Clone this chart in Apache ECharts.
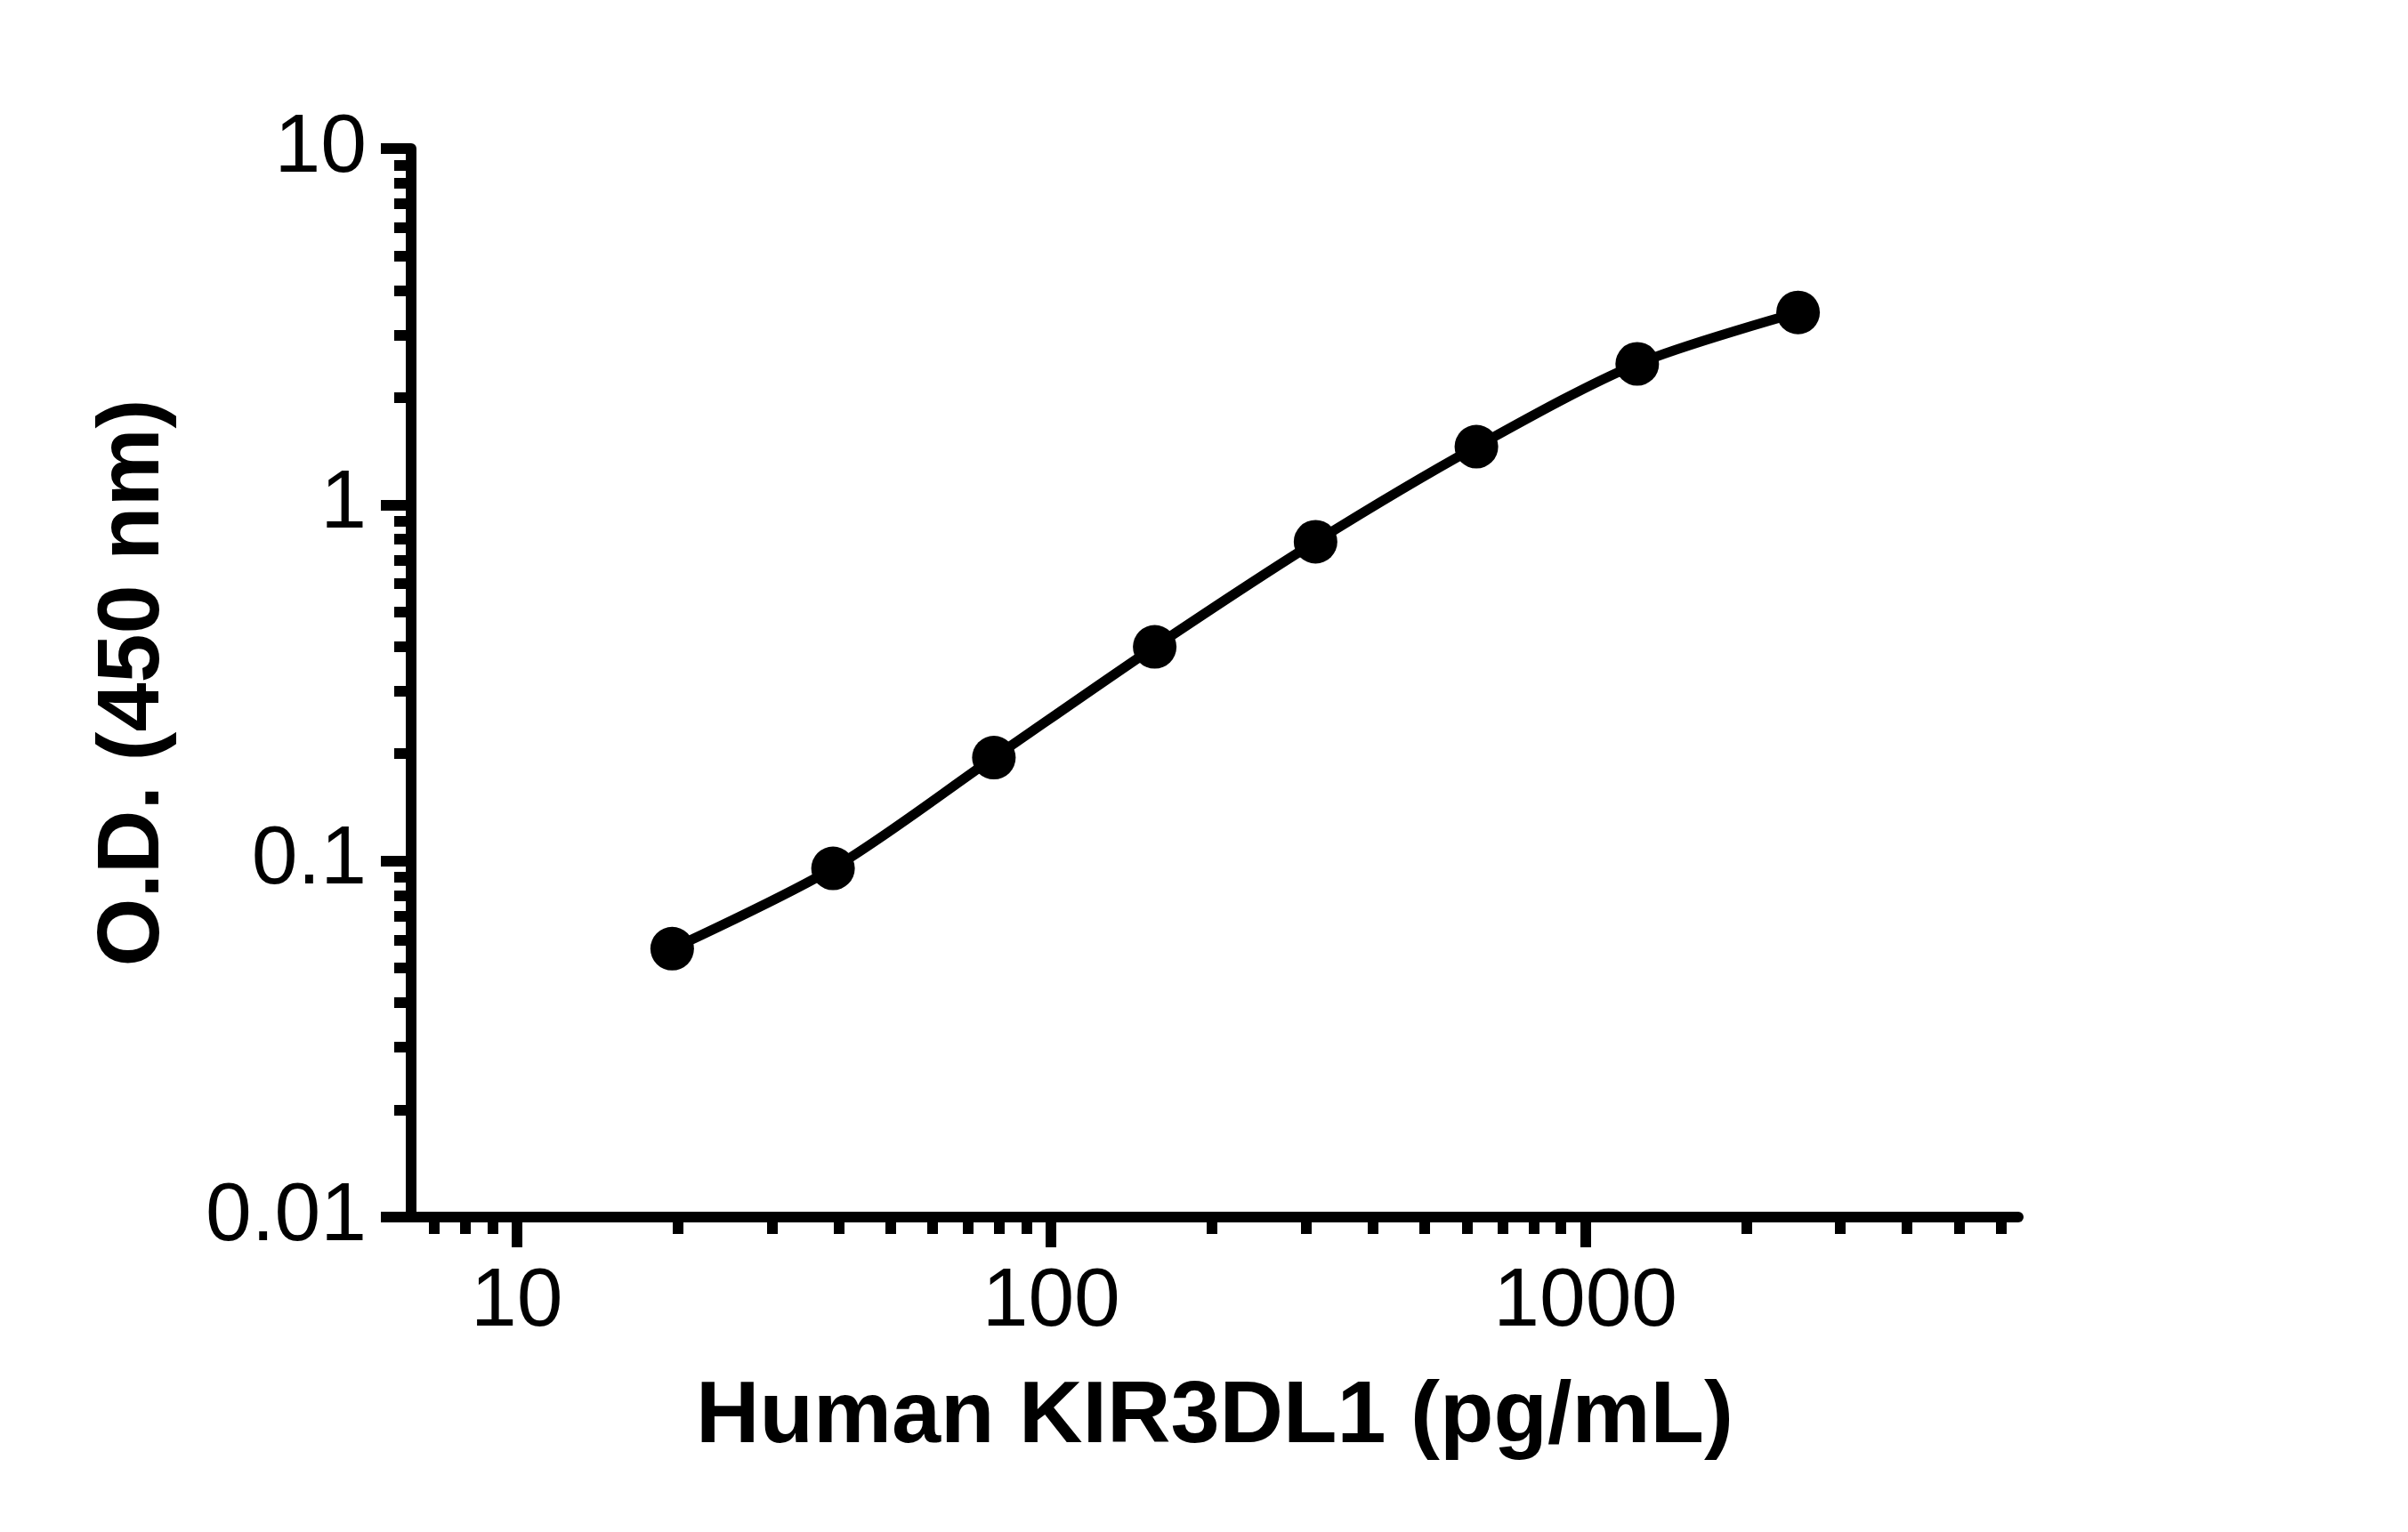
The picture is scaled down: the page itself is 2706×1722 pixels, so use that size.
<!DOCTYPE html>
<html>
<head>
<meta charset="utf-8">
<title>Human KIR3DL1 standard curve</title>
<script src="https://cdn.jsdelivr.net/npm/echarts@6/dist/echarts.min.js"></script>
<style>
  html, body { margin: 0; padding: 0; background: #fff; }
  #chart { width: 2706px; height: 1722px; }
</style>
</head>
<body>
<div id="chart"></div>
<script>
// standard curve points
var concentrations = [19.53, 39.06, 78.13, 156.25, 312.5, 625, 1250, 2500];
var odValues = [0.0567, 0.0953, 0.195, 0.399, 0.787, 1.456, 2.486, 3.467];

// axis ticks (log scale)
var xMajorTicks = [10, 100, 1000];
var xMinorTicks = [7, 8, 9, 20, 30, 40, 50, 60, 70, 80, 90,
    200, 300, 400, 500, 600, 700, 800, 900, 2000, 3000, 4000, 5000, 6000];
var yMajorTicks = [0.01, 0.1, 1, 10];
var yMinorTicks = [0.02, 0.03, 0.04, 0.05, 0.06, 0.07, 0.08, 0.09,
    0.2, 0.3, 0.4, 0.5, 0.6, 0.7, 0.8, 0.9, 2, 3, 4, 5, 6, 7, 8, 9];

var xTitle = 'Human KIR3DL1 (pg/mL)';
var yTitle = 'O.D. (450 nm)';

var font = 'Liberation Sans, Arial, Helvetica, sans-serif';
var xMin = 6.34, xMax = 6457;

var chart = echarts.init(document.getElementById('chart'));

function fmt(v) {
    return String(+(+v).toPrecision(3));
}

var points = concentrations.map(function (c, i) { return [c, odValues[i]]; });

var option = {
    animation: false,
    backgroundColor: '#fff',
    grid: {
        left: 462, right: 438, top: 167, bottom: 354,
        outerBoundsMode: 'none'
    },
    xAxis: [{
        type: 'log', logBase: 10, min: xMin, max: xMax,
        position: 'bottom',
        axisLine: { onZero: false, lineStyle: { color: '#000', width: 12 } },
        axisTick: { customValues: xMajorTicks, length: 34, lineStyle: { color: '#000', width: 12 } },
        axisLabel: {
            customValues: xMajorTicks, formatter: fmt, margin: 50,
            color: '#000', fontSize: 93, fontFamily: font
        },
        splitLine: { show: false },
        name: xTitle, nameLocation: 'middle', nameGap: 176,
        nameTextStyle: { color: '#000', fontSize: 99, fontWeight: 'bold', fontFamily: font }
    }, {
        type: 'log', logBase: 10, min: xMin, max: xMax,
        position: 'bottom',
        axisLine: { show: false, onZero: false },
        axisTick: { customValues: xMinorTicks, length: 19, lineStyle: { color: '#000', width: 12 } },
        axisLabel: { show: false },
        splitLine: { show: false }
    }],
    yAxis: [{
        type: 'log', logBase: 10, min: 0.01, max: 10,
        position: 'left',
        axisLine: { onZero: false, lineStyle: { color: '#000', width: 12 } },
        axisTick: { customValues: yMajorTicks, length: 34, lineStyle: { color: '#000', width: 12 } },
        axisLabel: {
            customValues: yMajorTicks, formatter: fmt, margin: 50,
            color: '#000', fontSize: 93, fontFamily: font
        },
        splitLine: { show: false },
        name: yTitle, nameLocation: 'middle', nameGap: 262,
        nameTextStyle: { color: '#000', fontSize: 99, fontWeight: 'bold', fontFamily: font }
    }, {
        type: 'log', logBase: 10, min: 0.01, max: 10,
        position: 'left',
        axisLine: { show: false, onZero: false },
        axisTick: { customValues: yMinorTicks, length: 19, lineStyle: { color: '#000', width: 12 } },
        axisLabel: { show: false },
        splitLine: { show: false }
    }],
    series: [{
        type: 'line',
        xAxisIndex: 0, yAxisIndex: 0,
        data: points,
        smooth: 0.3,
        symbol: 'circle',
        symbolSize: 49,
        itemStyle: { color: '#000' },
        lineStyle: { color: '#000', width: 11 },
        z: 5
    }]
};
chart.setOption(option);
</script>
</body>
</html>
